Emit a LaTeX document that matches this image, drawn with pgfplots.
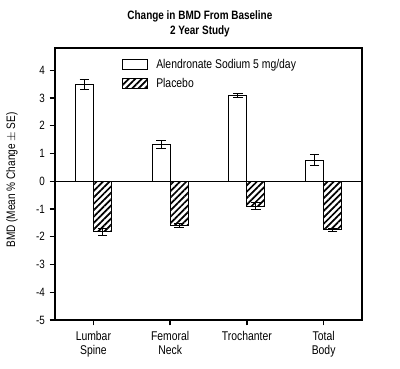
\documentclass[border=0pt]{standalone}
\usepackage{fontspec}
\setmainfont{Liberation Sans}[FakeStretch=0.82]
\usepackage{pgfplots}
\pgfplotsset{compat=1.18}
\usetikzlibrary{patterns.meta}
\begin{document}
\begin{tikzpicture}[x=1pt,y=1pt]
\begin{axis}[
  scale only axis,
  width=230.25pt, height=204pt,
  at={(0,0)}, anchor=south west,
  xmin=-0.5, xmax=3.5,
  ymin=-5, ymax=4.8,
  ytick={-5,-4,-3,-2,-1,0,1,2,3,4},
  xtick={0,1,2,3},
  xticklabels={{Lumbar\\Spine},{Femoral\\Neck},{Trochanter},{Total\\Body}},
  xticklabel style={align=center, font=\fontsize{9.5}{10.5}\selectfont, anchor=north, yshift=-1pt},
  yticklabel style={font=\fontsize{9}{10}\selectfont},
  /pgf/number format/assume math mode=true,
  tick align=outside,
  xtick pos=left, ytick pos=left,
  major tick length=4pt,
  tick style={line width=1pt, black},
  axis line style={line width=1pt},
  ylabel={BMD (Mean \% Change $\pm$ SE)},
  ylabel style={at={(axis description cs:-0.14,0.515)}, anchor=center, font=\fontsize{9.2}{10}\selectfont},
  title={Change in BMD From Baseline\\2 Year Study},
  title style={at={(axis description cs:0.472,1)}, anchor=south, yshift=-1pt, font=\fontsize{9.1}{11}\selectfont\bfseries, align=center},
  ybar, bar width=13.5pt,
  legend style={at={(axis description cs:0.218,0.97)}, anchor=north west, draw=none, fill=none,
    font=\fontsize{9.5}{10}\selectfont, row sep=2pt, inner sep=0pt,
    nodes={inner xsep=6pt}},
  legend cell align=left,
  legend image code/.code={\draw[#1, line width=0.8pt] (0pt,-3.75pt) rectangle (18.75pt,3.75pt);},
  error bars/y dir=both, error bars/y explicit,
  error bars/error bar style={line width=0.8pt, black},
  error bars/error mark options={rotate=90, mark size=3.5pt, line width=0.8pt, black},
]
\addplot[draw=black, fill=white, line width=0.8pt, bar shift=-6.75pt] coordinates {
  (0,3.5) +- (0,0.18)
  (1,1.32) +- (0,0.15)
  (2,3.08) +- (0,0.08)
  (3,0.75) +- (0,0.2)
};
\addlegendentry{Alendronate Sodium 5 mg/day}
\addplot[draw=black, fill=white, line width=0.8pt, bar shift=6.75pt,
  postaction={pattern={Lines[angle=45,distance=3.4pt,line width=1.3pt]}}] coordinates {
  (0,-1.82) +- (0,0.12)
  (1,-1.6) +- (0,0.08)
  (2,-0.9) +- (0,0.12)
  (3,-1.75) +- (0,0.05)
};
\addlegendentry{Placebo}
\draw[line width=1pt] (axis cs:-0.5,0) -- (axis cs:3.5,0);
\end{axis}
\pgfresetboundingbox
\useasboundingbox (-41.25pt,-36pt) rectangle (258.75pt,240pt);
\end{tikzpicture}
\end{document}
